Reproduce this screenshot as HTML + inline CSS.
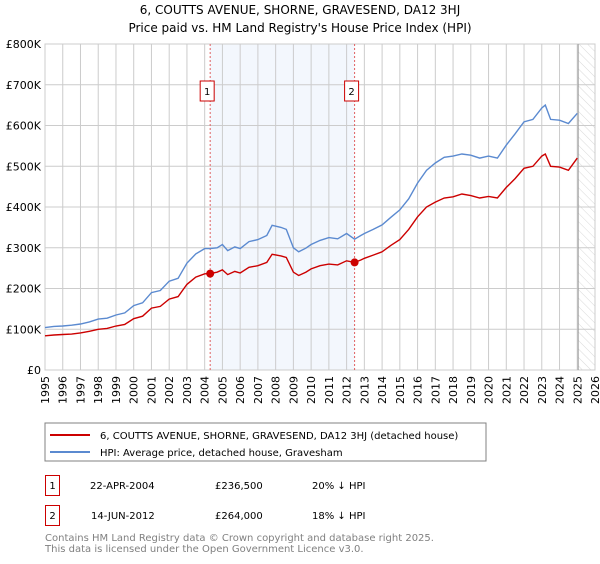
<!DOCTYPE html>
<html><head><meta charset="utf-8"><style>
body{margin:0;width:600px;height:560px;background:#fff;font-family:"DejaVu Sans","Liberation Sans",sans-serif;overflow:hidden}
svg text{font-family:"DejaVu Sans","Liberation Sans",sans-serif}
</style></head><body>
<svg id="c" width="600" height="560">
<text x="300" y="14" font-size="12" text-anchor="middle">6, COUTTS AVENUE, SHORNE, GRAVESEND, DA12 3HJ</text>
<text x="300" y="32" font-size="12" text-anchor="middle">Price paid vs. HM Land Registry's House Price Index (HPI)</text>
<g id="plot"></g>
<rect x="45" y="423" width="441" height="38" fill="#fff" stroke="#808080"/>
<line x1="50" y1="435" x2="90" y2="435" stroke="#cc0000" stroke-width="2"/>
<text x="100" y="439" font-size="10">6, COUTTS AVENUE, SHORNE, GRAVESEND, DA12 3HJ (detached house)</text>
<line x1="50" y1="452" x2="90" y2="452" stroke="#5b8ad0" stroke-width="2"/>
<text x="100" y="456" font-size="10">HPI: Average price, detached house, Gravesham</text>
<rect x="45.5" y="475.5" width="14" height="20" fill="#fff" stroke="#cc0000"/>
<text x="52.5" y="489" font-size="10" text-anchor="middle">1</text>
<text x="90" y="489" font-size="10">22-APR-2004</text>
<text x="215" y="489" font-size="10">£236,500</text>
<text x="312" y="489" font-size="10">20% ↓ HPI</text>
<rect x="45.5" y="505.5" width="14" height="20" fill="#fff" stroke="#cc0000"/>
<text x="52.5" y="519" font-size="10" text-anchor="middle">2</text>
<text x="91" y="519" font-size="10">14-JUN-2012</text>
<text x="215" y="519" font-size="10">£264,000</text>
<text x="312" y="519" font-size="10">18% ↓ HPI</text>
<text x="45" y="541" font-size="10" fill="#808080">Contains HM Land Registry data © Crown copyright and database right 2025.</text>
<text x="45" y="552" font-size="10" fill="#808080">This data is licensed under the Open Government Licence v3.0.</text>
</svg>
<script>
const years=[1995,1995.5,1996,1996.5,1997,1997.5,1998,1998.5,1999,1999.5,2000,2000.5,2001,2001.5,2002,2002.5,2003,2003.5,2004,2004.3,2004.7,2005,2005.3,2005.7,2006,2006.5,2007,2007.5,2007.8,2008.3,2008.6,2009,2009.3,2009.7,2010,2010.5,2011,2011.5,2012,2012.45,2012.8,2013,2013.5,2014,2014.5,2015,2015.5,2016,2016.5,2017,2017.5,2018,2018.5,2019,2019.5,2020,2020.5,2021,2021.5,2022,2022.5,2023,2023.2,2023.5,2024,2024.5,2025];
const hpi=[104,107,108,110,113,118,125,127,135,140,158,165,190,195,218,225,262,285,298,298,300,308,293,302,298,315,320,330,355,350,345,300,290,299,308,318,325,322,335,321,330,335,345,356,375,393,420,459,490,508,522,525,530,527,520,525,520,552,580,609,615,643,650,615,613,605,630];
const price=[84,86,87,88,91,95,100,102,108,112,126,132,152,156,174,180,210,228,236,236.5,240,246,234,242,238,252,256,264,284,280,276,240,232,240,248,256,260,258,268,264,270,274,282,290,306,320,345,376,400,412,422,425,432,428,422,426,422,448,470,495,500,525,530,500,498,490,520];
const yTicks=[0,100,200,300,400,500,600,700,800];
const yLabels=["£0","£100K","£200K","£300K","£400K","£500K","£600K","£700K","£800K"];
const xTicks=[1995,1996,1997,1998,1999,2000,2001,2002,2003,2004,2005,2006,2007,2008,2009,2010,2011,2012,2013,2014,2015,2016,2017,2018,2019,2020,2021,2022,2023,2024,2025,2026];
const sales=[{n:"1",t:2004.31,v:236.5},{n:"2",t:2012.45,v:264}];
const X0=45,X1=595,Y0=370,Y1=44;
const xs=t=>X0+(t-1995)/(2026-1995)*(X1-X0);
const ys=v=>Y0-v/800*(Y0-Y1);
const NS="http://www.w3.org/2000/svg";
const g=document.getElementById('plot');
function mk(tag,attrs){const e=document.createElementNS(NS,tag);for(const k in attrs)e.setAttribute(k,attrs[k]);g.appendChild(e);return e;}
let defs=mk('defs',{});
defs.innerHTML='<pattern id="hatch" width="6" height="6" patternUnits="userSpaceOnUse" patternTransform="rotate(-45)"><line x1="0" y1="0" x2="0" y2="6" stroke="#cfcfcf" stroke-width="0.8"/></pattern>';
let sh=mk('rect',{x:xs(sales[0].t),y:Y1,width:xs(sales[1].t)-xs(sales[0].t),height:Y0-Y1,fill:'#eef3fc',opacity:0.7});


let ht=mk('rect',{x:xs(2025.05),y:Y1,width:X1-xs(2025.05),height:Y0-Y1,fill:'url(#hatch)'});


yTicks.forEach((v,i)=>{
 let l=mk('line',{x1:X0,x2:X1,y1:ys(v),y2:ys(v),stroke:'#cccccc'});
 
 
 let t=mk('text',{x:X0-4,y:ys(v)+4,'font-size':11,'text-anchor':'end'});t.textContent=yLabels[i];
 
 
});
xTicks.forEach(yr=>{
 let l=mk('line',{x1:xs(yr),x2:xs(yr),y1:Y1,y2:Y0,stroke:'#cccccc'});
 
 
 let t=mk('text',{x:0,y:0,'font-size':11,'text-anchor':'end',transform:`translate(${xs(yr)+4},${Y0+6}) rotate(-90)`});t.textContent=yr;
 
 
});
let bx=mk('rect',{x:X0,y:Y1,width:X1-X0,height:Y0-Y1,fill:'none',stroke:'#cccccc'});


let nl=mk('line',{x1:xs(2025.05),x2:xs(2025.05),y1:Y1,y2:Y0,stroke:'#999'});


sales.forEach(s=>{
 let l=mk('line',{x1:xs(s.t),x2:xs(s.t),y1:Y1,y2:Y0,stroke:'#e06060','stroke-dasharray':'2,2'});
 
 
 let r=mk('rect',{x:xs(s.t)-10,y:81,width:14,height:20,fill:'#fff',stroke:'#cc0000'});
 
 
 let t=mk('text',{x:xs(s.t)-3,y:95,'font-size':10,'text-anchor':'middle'});t.textContent=s.n;
 
 
});
function path(vals,col,name){
 let d=vals.map((v,i)=>(i?'L':'M')+xs(years[i]).toFixed(1)+','+ys(v).toFixed(1)).join('');
 let p=mk('path',{d:d,fill:'none',stroke:col,'stroke-width':1.4});
 
 
}
path(hpi,'#5b8ad0','hpi-line');
path(price,'#cc0000','property-price-line');
sales.forEach(s=>{
 let c=mk('circle',{cx:xs(s.t),cy:ys(s.v),r:4,fill:'#cc0000'});
 
 
});
</script>
</body></html>
